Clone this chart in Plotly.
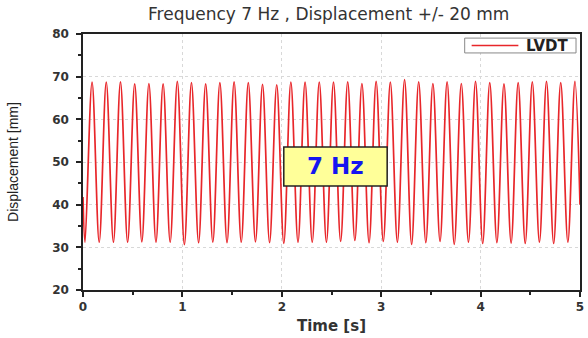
import plotly.graph_objects as go

# Extremum times (s) of the LVDT signal (start, then trough/peak alternating, end)
trough_t = [0.020, 0.163, 0.306, 0.449, 0.592, 0.734, 0.877, 1.020, 1.163, 1.306,
            1.449, 1.592, 1.735, 1.877, 2.020, 2.163, 2.306, 2.449, 2.592, 2.735,
            2.878, 3.021, 3.163, 3.306, 3.449, 3.592, 3.735, 3.878, 4.021, 4.164,
            4.307, 4.449, 4.592, 4.735, 4.878]
trough_v = [31.2, 31.2, 31.2, 31.2, 31.3, 31.2, 31.2, 30.6, 31.1, 31.2,
            31.1, 31.2, 31.3, 31.1, 30.9, 31.2, 31.2, 31.2, 31.4, 31.6,
            31.1, 31.4, 31.2, 30.7, 31.1, 31.4, 30.7, 31.2, 30.9, 31.1,
            31.0, 30.9, 31.2, 30.9, 31.2]
peak_t = [0.091, 0.234, 0.377, 0.520, 0.663, 0.806, 0.949, 1.091, 1.234, 1.377,
          1.520, 1.663, 1.806, 1.949, 2.091, 2.234, 2.377, 2.520, 2.663, 2.806,
          2.949, 3.092, 3.235, 3.377, 3.520, 3.663, 3.806, 3.949, 4.092, 4.235,
          4.378, 4.520, 4.663, 4.806, 4.949]
peak_v = [68.7, 68.7, 68.8, 68.3, 68.4, 68.3, 68.9, 68.6, 68.3, 68.6,
          68.8, 68.6, 68.2, 68.1, 68.7, 68.7, 68.7, 68.7, 68.8, 68.4,
          68.9, 68.7, 69.3, 68.8, 68.4, 68.8, 68.4, 68.9, 68.6, 68.3,
          68.6, 68.8, 68.9, 68.6, 68.9]
start_t, start_v = 0.0, 41.8
end_t, end_v = 5.0, 40.0
series_name = "LVDT"

t = [start_t]
v = [start_v]
for a, b, c, d in zip(trough_t, trough_v, peak_t, peak_v):
    t += [a, c]
    v += [b, d]
t.append(end_t)
v.append(end_v)

RED = "#e8262a"

fig = go.Figure()
fig.add_trace(go.Scatter(x=t, y=v, mode="lines", name=series_name, showlegend=False,
                         line=dict(color=RED, width=1.7, shape="spline", smoothing=1)))

axis_common = dict(
    showline=True, linecolor="#222", linewidth=1.5, mirror=True,
    ticks="outside", ticklen=5, tickwidth=1.5, tickcolor="#222",
    showgrid=True, gridcolor="#d8d8d8", griddash="dot", gridwidth=1,
    zeroline=False,
    tickfont=dict(family="DejaVu Sans", size=12, color="#333", weight="bold"),
)

fig.update_xaxes(range=[0, 5], dtick=1, tick0=0,
                 minor=dict(ticks="outside", ticklen=3, dtick=0.5, tickcolor="#222", tickwidth=1.5, showgrid=False),
                 title=dict(text="Time [s]", font=dict(family="DejaVu Sans", size=15, color="#333", weight="bold"), standoff=7),
                 **axis_common)
fig.update_yaxes(range=[20, 80], dtick=10, tick0=20, ticklabelstandoff=5,
                 minor=dict(ticks="outside", ticklen=3, dtick=5, tickcolor="#222", tickwidth=1.5, showgrid=False),
                 title=dict(text="Displacement [mm]", font=dict(family="Liberation Sans", size=14, color="#222"), standoff=30),
                 **axis_common)

# "7 Hz" label box
fig.add_shape(type="rect", xref="x", yref="y", x0=2.02, x1=3.06, y0=44.4, y1=53.5,
              fillcolor="#ffff99", line=dict(color="#222", width=1.5), layer="above")
fig.add_annotation(x=2.54, y=48.95, xref="x", yref="y", text="7 Hz", showarrow=False,
                   font=dict(family="DejaVu Sans", size=23, color="#1515f0", weight="bold"))

# compact legend box (top right)
fig.add_shape(type="rect", xref="paper", yref="paper", x0=0.768, x1=0.992, y0=0.926, y1=0.984,
              fillcolor="white", line=dict(color="#888", width=1), layer="above")
fig.add_shape(type="line", xref="paper", yref="paper", x0=0.782, x1=0.876, y0=0.955, y1=0.955,
              line=dict(color=RED, width=1.7), layer="above")
fig.add_annotation(x=0.934, y=0.955, xref="paper", yref="paper", text=series_name, showarrow=False,
                   xanchor="center", yanchor="middle",
                   font=dict(family="DejaVu Sans", size=15, color="#222", weight="bold"))

fig.update_layout(
    width=588, height=338,
    margin=dict(l=83, r=4, t=34, b=48),
    paper_bgcolor="white", plot_bgcolor="white",
    title=dict(text="Frequency 7 Hz , Displacement +/- 20 mm", x=0.559, xanchor="center", y=0.958, yanchor="middle",
               font=dict(family="DejaVu Sans", size=17, color="#333")),
    showlegend=False,
)

fig.write_html("out.html")
